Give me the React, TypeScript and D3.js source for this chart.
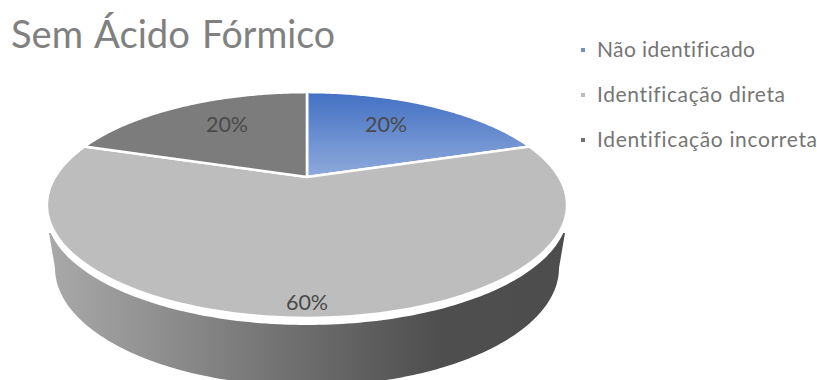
import React from "react";
import * as d3 from "d3";

const categories = ["Não identificado", "Identificação direta", "Identificação incorreta"];
const shares = [20, 60, 20];
const sliceFills = ["url(#sliceBlue)", "#bdbdbd", "#7c7c7c"];
const legendColors = ["#6f8fd0", "#bdbdbd", "#707070"];
const titleWords = ["Sem", "Ácido", "Fórmico"];

const W = 817;
const H = 380;

// Perspective tilt of the pie disc: apex sits above the centre of the outline.
const apex = { x: 307, y: 177 };
const tilt = 0.248;
const radiusX = 252;
const radiusY = 106;

type Pt = [number, number];

function project(theta: number, r = 1): Pt {
  const u = r * Math.sin(theta);
  const v = r * Math.cos(theta);
  const w = 1 + tilt * v;
  return [apex.x + (radiusX * u) / w, apex.y - (radiusY * v) / w];
}

const pathLine = d3.line<Pt>().x((d) => d[0]).y((d) => d[1]);

const pieLayout = d3.pie<number>().sort(null).value((d) => d);
const arcs = pieLayout(shares);

function slicePath(start: number, end: number): string {
  const rim = d3.range(0, 121).map((i) => project(start + ((end - start) * i) / 120));
  return pathLine([[apex.x, apex.y], ...rim])! + "Z";
}

const fullRim = d3.range(0, 361).map((i) => project((i / 360) * 2 * Math.PI));
const rimPath = pathLine(fullRim)! + "Z";

// Lower edge of the side wall: a slightly narrower ellipse below the disc.
const lowerCenterY = 268;
const lowerRx = 252;
const lowerRy = 118;
const lowerArc = d3.range(0, 181).map((i): Pt => {
  const a = Math.PI - (i / 180) * Math.PI;
  return [apex.x + lowerRx * Math.cos(a), lowerCenterY + lowerRy * Math.sin(a)];
});
const wallPath =
  pathLine([[49, 233], ...lowerArc, [565, 233]])! + "Z";

const wallStops: [number, string][] = [
  [0, "#a9a9a9"],
  [0.5, "#6c6c6c"],
  [0.76, "#4e4e4e"],
  [1, "#4d4d4d"],
];

const labelAnchors: Pt[] = [
  [386, 124],
  [307, 302],
  [227, 124],
];

const legendY = [50, 95, 140];
const legendWidths = [158, 188, 220];
const titleX = [11, 94, 202];
const titleWidths = [72, 96, 133];

export default function App() {
  const font = "Lato, 'Open Sans', sans-serif";
  return (
    <svg
      width={W}
      height={H}
      viewBox={`0 0 ${W} ${H}`}
      style={{ position: "absolute", left: 0, top: 0, background: "#fff", fontVariantLigatures: "none" }}
      fontFamily={font}
    >
      <defs>
        <linearGradient id="sliceBlue" gradientUnits="userSpaceOnUse" x1="0" y1="92" x2="0" y2="177">
          <stop offset="0" stopColor="#4270c3" />
          <stop offset="1" stopColor="#8faadc" />
        </linearGradient>
        <linearGradient id="wallShade" gradientUnits="userSpaceOnUse" x1="49" y1="0" x2="565" y2="0">
          {wallStops.map(([o, c]) => (
            <stop key={o} offset={o} stopColor={c} />
          ))}
        </linearGradient>
      </defs>

      <text y={48} fontSize={38} fill="#808080">
        {titleWords.map((w, i) => (
          <React.Fragment key={w}>
            {i > 0 ? " " : null}
            <tspan x={titleX[i]} textLength={titleWidths[i]} lengthAdjust="spacingAndGlyphs">
              {w}
            </tspan>
          </React.Fragment>
        ))}
      </text>

      <path d={wallPath} fill="url(#wallShade)" />
      <path d={rimPath} transform="translate(0,6)" fill="#fff" stroke="#fff" strokeWidth={2} />

      {arcs.map((a, i) => (
        <path
          key={categories[i]}
          d={slicePath(a.startAngle, a.endAngle)}
          fill={sliceFills[i]}
          stroke="#fff"
          strokeWidth={2.6}
          strokeLinejoin="round"
        />
      ))}

      {arcs.map((a, i) => (
        <text
          key={`v-${i}`}
          x={labelAnchors[i][0]}
          y={labelAnchors[i][1]}
          dy="0.35em"
          textAnchor="middle"
          fontSize={21.5}
          fill="#4a4a4a"
        >
          {`${a.data}%`}
        </text>
      ))}

      {categories.map((c, i) => (
        <g key={`l-${i}`}>
          <rect x={581} y={legendY[i] - 2} width={4} height={4} fill={legendColors[i]} />
          <text
            x={597}
            y={legendY[i]}
            dy="0.35em"
            fontSize={21}
            fill="#757575"
            textLength={legendWidths[i]}
            lengthAdjust="spacing"
          >
            {c}
          </text>
        </g>
      ))}
    </svg>
  );
}
